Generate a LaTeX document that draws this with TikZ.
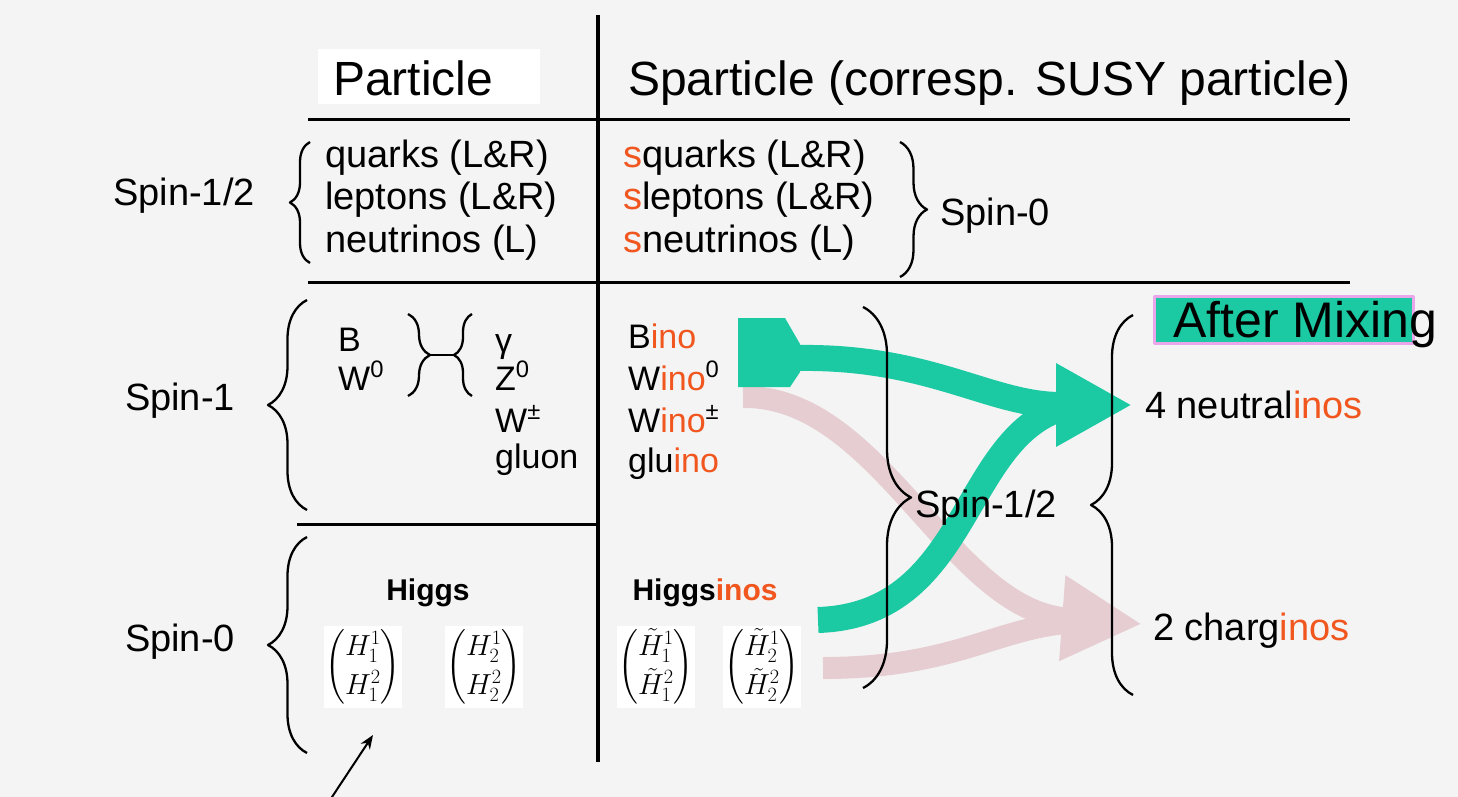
\RequirePackage{fix-cm}
\documentclass[tikz,border=0pt]{standalone}
\usepackage{amsmath}
\usepackage{fontspec}
\setmainfont{Liberation Sans}
\usetikzlibrary{arrows.meta,decorations.pathreplacing}
\definecolor{inoorange}{HTML}{F0561E}
\definecolor{mixteal}{HTML}{1BC9A2}
\definecolor{mixpink}{HTML}{E6CDD1}
\definecolor{boxpink}{HTML}{E9A6EA}
\definecolor{bgpaper}{HTML}{F4F4F4}
\newcommand{\ino}[1]{\textcolor{inoorange}{#1}}
\tikzset{
  every picture/.style={line join=round, >=Stealth},
  rule/.style={line width=3pt},
  brc/.style={decorate, decoration={brace, amplitude=#1}, line width=2.3pt},
  head/.style={font=\fontsize{48}{56}\selectfont, inner sep=0pt},
  lbl/.style={font=\fontsize{38}{44}\selectfont, inner sep=0pt},
  sml/.style={font=\fontsize{34}{40}\selectfont, inner sep=0pt},
  higgs/.style={font=\fontsize{30}{36}\selectfont\bfseries, inner sep=0pt},
  mtx/.style={font=\fontsize{29}{34}\selectfont, fill=white, inner sep=2pt},
  tealflow/.style={draw=mixteal, line width=26pt},
  pinkflow/.style={draw=mixpink, line width=22pt},
}
\renewcommand{\arraystretch}{1.15}

\begin{document}
\begin{tikzpicture}[x=1pt,y=-1pt]
\useasboundingbox (0,0) rectangle (1458,797);
\fill[bgpaper] (0,0) rectangle (1458,797);
% table rules
\draw[line width=4pt] (598,15) -- (598,762);
\draw[rule] (308,120) -- (1350,120);
\draw[rule] (308,282) -- (1350,282);
\draw[rule] (297,524) -- (598,524);
% headers
\node[fill=white, minimum width=222, minimum height=55] (partbox) at (429,77) {};
\node[head, anchor=base west] (part) at (333,96) {Particle};
\node[head, anchor=base west] (spart) at (628,96) {Sparticle (corresp. SUSY particle)};
% mixing flows
\coordinate (binoflow) at (798,358);
\coordinate (winoflow) at (743,397);
\coordinate (hinoA) at (818,620);
\coordinate (hinoB) at (823,668);
\coordinate (neuhead) at (1132,405);
\coordinate (neujoin) at (1075,405);
\coordinate (chahead) at (1142,624);
\coordinate (chajoin) at (1082,622);
\draw[pinkflow, -{Triangle[length=80pt,width=80pt]}] (winoflow) .. controls (880,395) and (950,610) .. (chahead);
\draw[pinkflow] (hinoB) .. controls (960,668) and (1000,624) .. (chajoin);
\fill[mixteal] (738,318) -- (785,318) -- (800,344) -- (800,372) -- (790,387) -- (738,387) -- cycle;
\draw[tealflow, -{Triangle[length=76pt,width=78pt]}] (binoflow) .. controls (930,356) and (990,405) .. (neuhead);
\draw[tealflow] (hinoA) .. controls (975,615) and (960,425) .. (neujoin);
% spin-1/2 fermions
\node[lbl, anchor=base] (sHalfL) at (184,205) {Spin-1/2};
\draw[brc=20pt] (310,263) -- (310,142);
\node[lbl, anchor=base west] (quarks) at (325,167) {quarks (L\&R)};
\node[lbl, anchor=base west] (leptons) at (325,209) {leptons (L\&R)};
\node[lbl, anchor=base west] (neutrinos) at (325,252) {neutrinos (L)};
\node[lbl, anchor=base west] (squarks) at (623,167) {\ino{s}quarks (L\&R)};
\node[lbl, anchor=base west] (sleptons) at (623,209) {\ino{s}leptons (L\&R)};
\node[lbl, anchor=base west] (sneutrinos) at (623,252) {\ino{s}neutrinos (L)};
\draw[brc=27pt] (900,142) -- (900,277);
\node[lbl, anchor=base west] (sZeroR) at (940,225) {Spin-0};
% spin-1 bosons
\node[lbl, anchor=base] (sOne) at (180,410) {Spin-1};
\draw[brc=39pt] (307,510) -- (307,300);
\node[sml, anchor=base west] (bfield) at (338,351) {B};
\node[sml, anchor=base west] (wfield) at (338,390) {W\textsuperscript{0}};
\draw[brc=22pt] (408,314) -- (408,396);
\draw[brc=18pt] (472,396) -- (472,314);
\draw[line width=2.3pt] (430,355) -- (454,355);
\node[sml, anchor=base west] (photon) at (495,352) {γ};
\node[sml, anchor=base west] (zboson) at (495,390) {Z\textsuperscript{0}};
\node[sml, anchor=base west] (wboson) at (495,432) {W\textsuperscript{±}};
\node[sml, anchor=base west] (gluon) at (495,468) {gluon};
\node[sml, anchor=base west] (bino) at (628,348) {B\ino{ino}};
\node[sml, anchor=base west] (winoz) at (628,390) {W\ino{ino}\textsuperscript{0}};
\node[sml, anchor=base west] (winoc) at (628,432) {W\ino{ino}\textsuperscript{±}};
\node[sml, anchor=base west] (gluino) at (628,472) {glu\ino{ino}};
% spin-0 higgs
\node[lbl, anchor=base] (sZeroL) at (180,651) {Spin-0};
\draw[brc=39pt] (307,753) -- (307,537);
\node[higgs, anchor=base] (higgs) at (428,600) {Higgs};
\node[mtx] (hm1) at (363,667) {$\begin{pmatrix} H_1^1 \\ H_1^2 \end{pmatrix}$};
\node[mtx] (hm2) at (484,667) {$\begin{pmatrix} H_2^1 \\ H_2^2 \end{pmatrix}$};
\node[higgs, anchor=base] (higgsinos) at (705,600) {Higgs\ino{inos}};
\node[mtx] (hs1) at (656,667) {$\begin{pmatrix} \tilde H_1^1 \\ \tilde H_1^2 \end{pmatrix}$};
\node[mtx] (hs2) at (762,667) {$\begin{pmatrix} \tilde H_2^1 \\ \tilde H_2^2 \end{pmatrix}$};
\coordinate (ptrfoot) at (330,800);
\coordinate (ptrtip) at (373,735);
\draw[-{Stealth[length=14pt,width=11pt]}, line width=2pt] (ptrfoot) -- (ptrtip);
% after mixing
\draw[brc=48pt] (863,307) -- (863,688);
\node[lbl, anchor=base] (sHalfM) at (986,517) {Spin-1/2};
\draw[brc=42pt] (1133,695) -- (1133,315);
\node[draw=boxpink, line width=3pt, fill=mixteal, minimum width=259, minimum height=47] (mixbox) at (1284,320) {};
\node[font=\fontsize{50}{58}\selectfont, inner sep=0pt, anchor=base west] (mixing) at (1173,337) {After Mixing};
\node[lbl, anchor=base west] (neutralinos) at (1145,418) {4 neutral\ino{inos}};
\node[lbl, anchor=base west] (charginos) at (1153,640) {2 charg\ino{inos}};
\end{tikzpicture}
\end{document}
